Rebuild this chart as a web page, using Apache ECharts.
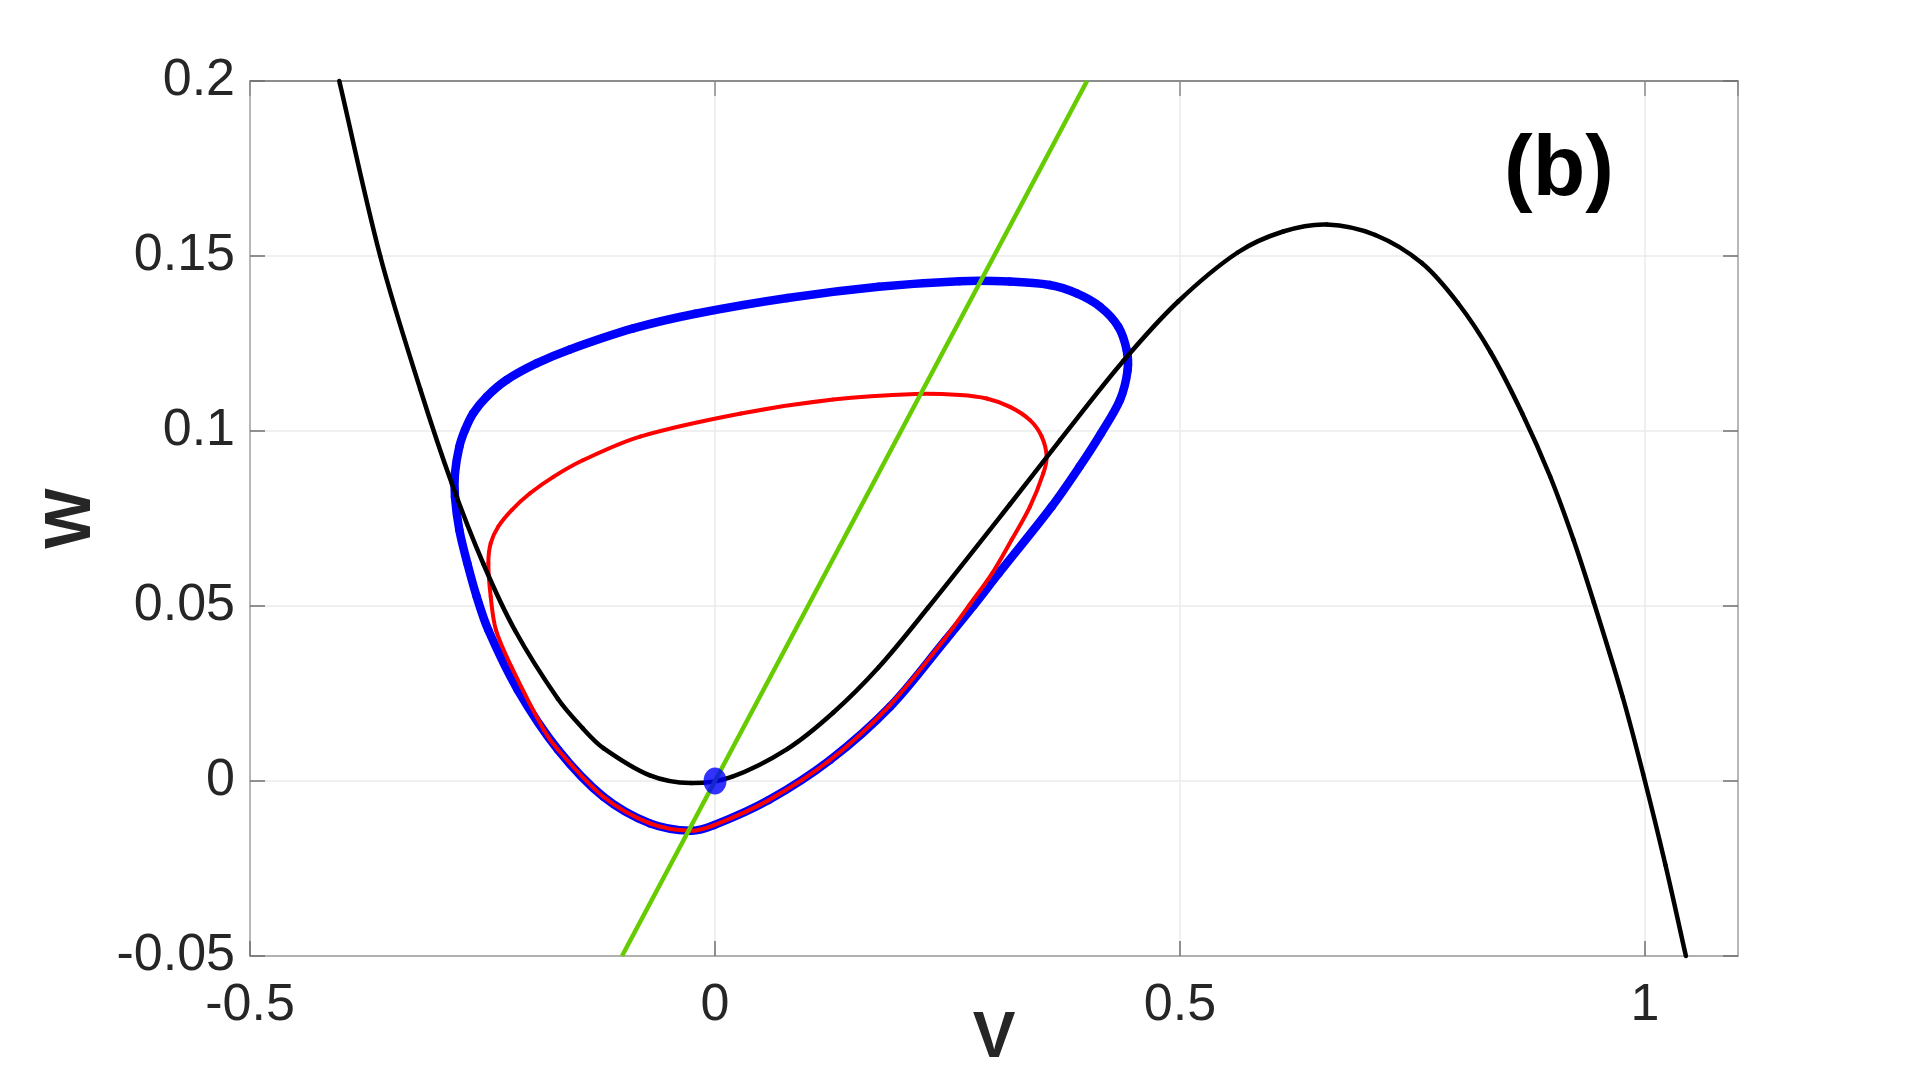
<!DOCTYPE html>
<html>
<head>
<meta charset="utf-8">
<script src="https://cdn.jsdelivr.net/npm/echarts@6/dist/echarts.min.js"></script>
<style>
  html, body { margin: 0; padding: 0; background: #fff; }
  #main { width: 1920px; height: 1075px; }
</style>
</head>
<body>
<div id="main"></div>
<script>
// 读图得到的数据 (v, w)
var cubicNullcline = [
  [-0.404, 0.200], [-0.360, 0.150], [-0.317, 0.112], [-0.283, 0.085],
  [-0.249, 0.062], [-0.215, 0.043], [-0.169, 0.0235], [-0.142, 0.015],
  [-0.120, 0.0094], [-0.070, 0.0016], [-0.026, -0.0006], [0.018, 0.0012],
  [0.078, 0.0092], [0.127, 0.0195], [0.176, 0.0325], [0.229, 0.0495],
  [0.317, 0.079], [0.371, 0.0974], [0.439, 0.120], [0.498, 0.137],
  [0.562, 0.151], [0.611, 0.157], [0.658, 0.159], [0.710, 0.156],
  [0.760, 0.148], [0.799, 0.1365], [0.834, 0.1225], [0.868, 0.105],
  [0.898, 0.087], [0.923, 0.069], [0.945, 0.051], [0.976, 0.024],
  [0.998, 0.002], [1.022, -0.024], [1.044, -0.050]
];

var linearNullcline = [[-0.1, -0.05], [0.4, 0.2]];

// 闭合轨道: 首尾同点
var orbitBlue = [
  [-0.026, -0.0142], [-0.070, -0.0121], [-0.120, -0.0045], [-0.169, 0.009],
  [-0.212, 0.026], [-0.2437, 0.0431], [-0.2563, 0.0527], [-0.2663, 0.0622],
  [-0.2749, 0.0717], [-0.2796, 0.0812], [-0.2796, 0.0879], [-0.2749, 0.0955],
  [-0.2688, 0.1003], [-0.2599, 0.1051], [-0.2455, 0.1098], [-0.224, 0.1146],
  [-0.192, 0.1193], [-0.156, 0.1233], [-0.088, 0.1293], [-0.021, 0.1335],
  [0.078, 0.1380], [0.176, 0.1412], [0.263, 0.1428], [0.317, 0.1427],
  [0.360, 0.1417], [0.389, 0.1393], [0.414, 0.1355], [0.4337, 0.1298],
  [0.4427, 0.1231], [0.4437, 0.1174], [0.4355, 0.1089], [0.415, 0.0993],
  [0.392, 0.0898], [0.362, 0.0784], [0.305, 0.0593], [0.278, 0.0501],
  [0.248, 0.0403], [0.1882, 0.0212], [0.1237, 0.006], [0.058, -0.0054],
  [-0.001, -0.0126], [-0.026, -0.0142]
];

var orbitRed = [
  [-0.026, -0.0142], [-0.070, -0.0121], [-0.120, -0.0045], [-0.169, 0.009],
  [-0.184, 0.0146], [-0.219, 0.0327], [-0.2355, 0.0431], [-0.2412, 0.0527],
  [-0.2437, 0.0622], [-0.2412, 0.0679], [-0.233, 0.0727], [-0.2186, 0.0774],
  [-0.1989, 0.0822], [-0.1738, 0.0869], [-0.1416, 0.0917], [-0.0806, 0.0984],
  [0.028, 0.105], [0.127, 0.109], [0.216, 0.1106], [0.2634, 0.1103],
  [0.2921, 0.1093], [0.3172, 0.1069], [0.3387, 0.1031], [0.3513, 0.0984],
  [0.3566, 0.0927], [0.353, 0.0879], [0.3387, 0.0784], [0.319, 0.0689],
  [0.298, 0.0593], [0.273, 0.0501], [0.246, 0.0403], [0.1864, 0.0212],
  [0.1237, 0.006], [0.058, -0.0054], [-0.001, -0.0126], [-0.026, -0.0142]
];

var restPoint = [[0, 0]];

var xTicks = { min: -0.5, max: 1.1, step: 0.5 };
var yTicks = { min: -0.05, max: 0.2, step: 0.05 };

var myChart = echarts.init(document.getElementById('main'), null, { renderer: 'canvas' });

var labelFont = {
  color: '#262626',
  fontFamily: 'Liberation Sans',
  fontSize: 52
};

// 曲线: 每个数据点画一段三次贝塞尔 (坐标由 api.coord 换算)
function smoothCurve(name, pts, closed, color, width, z) {
  var n = pts.length;
  return {
    name: name,
    type: 'custom',
    coordinateSystem: 'cartesian2d',
    xAxisIndex: 0,
    yAxisIndex: 0,
    data: pts,
    encode: { x: 0, y: 1 },
    silent: true,
    z: z,
    renderItem: function (params, api) {
      var i = params.dataIndex;
      if (i >= n - 1) return null;
      function at(k) {
        if (closed) {
          if (k < 0) k = n - 1 + k;
          if (k > n - 1) k = k - (n - 1);
        } else {
          k = Math.max(0, Math.min(n - 1, k));
        }
        return api.coord(pts[k]);
      }
      function dist(a, b) {
        return Math.sqrt((a[0] - b[0]) * (a[0] - b[0]) + (a[1] - b[1]) * (a[1] - b[1]));
      }
      var p0 = at(i - 1), p1 = at(i), p2 = at(i + 1), p3 = at(i + 2);
      var a0 = dist(p0, p1), a1 = dist(p1, p2), a2 = dist(p2, p3);
      var r1 = (a0 + a1) > 0 ? a1 / (a0 + a1) / 3 : 1 / 3;
      var r2 = (a1 + a2) > 0 ? a1 / (a1 + a2) / 3 : 1 / 3;
      return {
        type: 'bezierCurve',
        shape: {
          x1: p1[0], y1: p1[1],
          x2: p2[0], y2: p2[1],
          cpx1: p1[0] + (p2[0] - p0[0]) * r1,
          cpy1: p1[1] + (p2[1] - p0[1]) * r1,
          cpx2: p2[0] - (p3[0] - p1[0]) * r2,
          cpy2: p2[1] - (p3[1] - p1[1]) * r2
        },
        style: { fill: null, stroke: color, lineWidth: width, lineCap: 'round' }
      };
    }
  };
}

var option = {
  animation: false,
  backgroundColor: '#fff',
  grid: {
    left: 250, right: 182, top: 81, bottom: 119,
    containLabel: false,
    outerBoundsMode: 'none'
  },
  xAxis: [
    {
      type: 'value',
      min: xTicks.min, max: xTicks.max, interval: xTicks.step,
      name: 'V',
      nameLocation: 'middle',
      nameGap: 51,
      nameMoveOverlap: false,
      nameTextStyle: { fontFamily: 'Liberation Sans', fontWeight: 'bold', fontSize: 64, color: '#262626' },
      axisLine: { show: true, onZero: false, lineStyle: { color: '#9a9a9a', width: 1.5 } },
      axisTick: { show: true, inside: true, length: 15, lineStyle: { color: '#707070', width: 1.5 } },
      axisLabel: Object.assign({ margin: 24, showMaxLabel: false }, labelFont),
      splitLine: { show: true, lineStyle: { color: '#ebebeb', width: 1.5 } }
    },
    {
      type: 'value', position: 'top',
      min: xTicks.min, max: xTicks.max, interval: xTicks.step,
      axisLine: { show: true, onZero: false, lineStyle: { color: '#6b6b6b', width: 1.5 } },
      axisTick: { show: true, inside: true, length: 15, lineStyle: { color: '#8a8a8a', width: 1.5 } },
      axisLabel: { show: false },
      splitLine: { show: false }
    }
  ],
  yAxis: [
    {
      type: 'value',
      min: yTicks.min, max: yTicks.max, interval: yTicks.step,
      name: 'W',
      nameLocation: 'middle',
      nameGap: 146,
      nameMoveOverlap: false,
      nameTextStyle: { fontFamily: 'Liberation Sans', fontWeight: 'bold', fontSize: 64, color: '#262626' },
      axisLine: { show: true, onZero: false, lineStyle: { color: '#a5a5a5', width: 1.5 } },
      axisTick: { show: true, inside: true, length: 15, lineStyle: { color: '#707070', width: 1.5 } },
      axisLabel: Object.assign({ margin: 15 }, labelFont),
      splitLine: { show: true, lineStyle: { color: '#ebebeb', width: 1.5 } }
    },
    {
      type: 'value', position: 'right',
      min: yTicks.min, max: yTicks.max, interval: yTicks.step,
      axisLine: { show: true, onZero: false, lineStyle: { color: '#a5a5a5', width: 1.5 } },
      axisTick: { show: true, inside: true, length: 15, lineStyle: { color: '#707070', width: 1.5 } },
      axisLabel: { show: false },
      splitLine: { show: false }
    }
  ],
  graphic: [
    {
      type: 'text',
      left: 1504, top: 128,
      style: {
        text: '(b)',
        fill: '#000',
        font: 'bold 86px "Liberation Sans"'
      }
    }
  ],
  series: [
    smoothCurve('orbitBlue', orbitBlue, true, '#0000ff', 8.5, 2),
    smoothCurve('orbitRed', orbitRed, true, '#ff0000', 4, 3),
    smoothCurve('cubic', cubicNullcline, false, '#000000', 4.5, 4),
    {
      name: 'linear', type: 'line', data: linearNullcline,
      symbol: 'none', silent: true,
      lineStyle: { color: '#66cc00', width: 4.5 }, z: 5
    },
    {
      name: 'rest', type: 'scatter', data: restPoint,
      symbol: 'circle', symbolSize: [23, 27], silent: true,
      itemStyle: { color: '#0000ff' }, z: 6
    }
  ]
};

myChart.setOption(option);
</script>
</body>
</html>
